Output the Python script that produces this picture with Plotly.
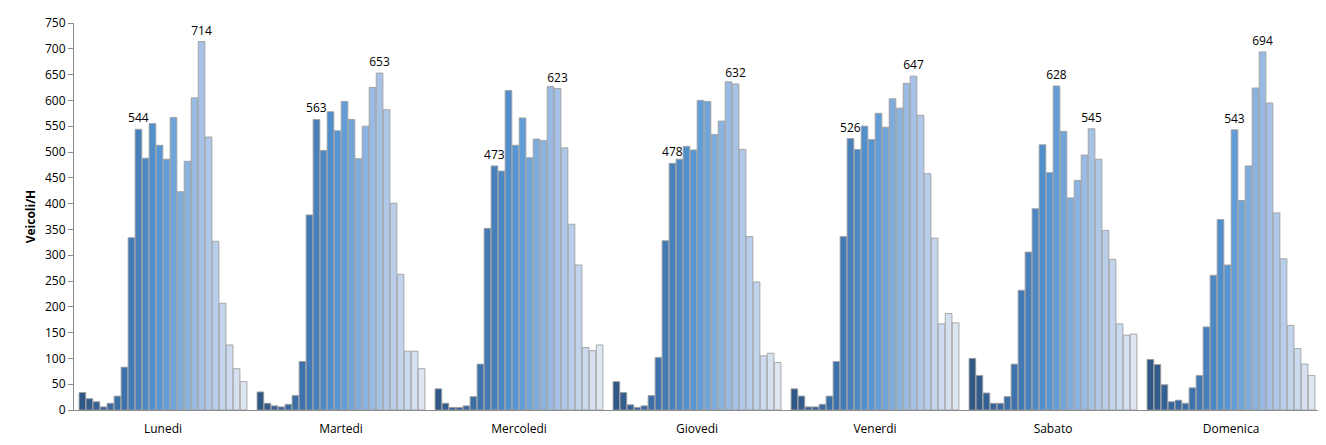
import plotly.graph_objects as go

days = ["Lunedi", "Martedi", "Mercoledi", "Giovedi", "Venerdi", "Sabato", "Domenica"]
hours = list(range(24))

lunedi    = [34, 22, 16, 6, 13, 27, 83, 334, 544, 488, 555, 513, 486, 567, 423, 482, 605, 714, 529, 327, 207, 126, 80, 55]
martedi   = [35, 13, 8, 6, 11, 28, 94, 378, 563, 503, 578, 541, 598, 563, 487, 550, 625, 653, 582, 401, 263, 114, 114, 80]
mercoledi = [41, 13, 5, 5, 8, 26, 89, 352, 473, 463, 619, 513, 566, 489, 525, 522, 627, 623, 508, 360, 281, 121, 115, 126]
giovedi   = [55, 34, 10, 5, 8, 28, 102, 328, 478, 486, 511, 504, 600, 598, 534, 560, 636, 632, 505, 336, 248, 105, 110, 92]
venerdi   = [41, 27, 6, 6, 11, 27, 94, 336, 526, 505, 550, 524, 575, 548, 603, 585, 633, 647, 571, 458, 333, 167, 187, 169]
sabato    = [100, 67, 33, 13, 13, 26, 89, 232, 306, 390, 514, 460, 628, 540, 411, 445, 494, 545, 486, 348, 292, 167, 145, 147]
domenica  = [98, 88, 49, 16, 19, 13, 43, 67, 161, 261, 369, 281, 543, 406, 473, 624, 694, 595, 382, 293, 164, 119, 89, 67]

day_values = [lunedi, martedi, mercoledi, giovedi, venerdi, sabato, domenica]
label_hours = [[8, 17], [8, 17], [8, 17], [8, 17], [8, 17], [12, 17], [12, 16]]

# colour ramp: dark blue -> mid blue -> pale blue
stops = [(0, (47, 88, 134)), (6, (62, 114, 172)), (11, (86, 150, 212)), (17, (166, 194, 230)), (23, (222, 230, 242))]

def ramp(h):
    for (h0, c0), (h1, c1) in zip(stops[:-1], stops[1:]):
        if h0 <= h <= h1:
            t = (h - h0) / (h1 - h0)
            c = [round(a + (b - a) * t) for a, b in zip(c0, c1)]
            return "rgb(%d,%d,%d)" % tuple(c)
    return "rgb(222,230,242)"

fig = go.Figure()
for h in hours:
    ys = [dv[h] for dv in day_values]
    texts = [str(dv[h]) if h in lh else "" for dv, lh in zip(day_values, label_hours)]
    fig.add_trace(go.Bar(
        x=days, y=ys, name=str(h),
        marker=dict(color=ramp(h), line=dict(color="rgba(160,160,160,0.9)", width=1)),
        text=texts, textposition="outside", cliponaxis=False,
        constraintext="none",
        textfont=dict(size=12, color="black", family="Open Sans, Liberation Sans, sans-serif"),
        showlegend=False,
    ))

fig.update_layout(
    width=1318, height=437,
    barmode="group", bargap=0.055, bargroupgap=0.05,
    margin=dict(l=66, r=6, t=10, b=35),
    plot_bgcolor="white", paper_bgcolor="white",
    font=dict(family="Open Sans, Liberation Sans, sans-serif", size=12, color="black"),
)
fig.update_yaxes(
    range=[0, 750], dtick=50, showgrid=False, zeroline=False,
    showline=True, linecolor="#8c8c8c", linewidth=1,
    ticks="outside", ticklen=5, tickcolor="#8c8c8c",
    tickfont=dict(size=12),
    title=dict(text="<b>Veicoli/H</b>", font=dict(size=12), standoff=6),
)
fig.update_xaxes(
    showgrid=False, showline=True, linecolor="#8c8c8c", linewidth=1,
    ticks="outside", ticklen=8, tickcolor="rgba(0,0,0,0)", tickfont=dict(size=12),
)

fig.write_html("out.html")
